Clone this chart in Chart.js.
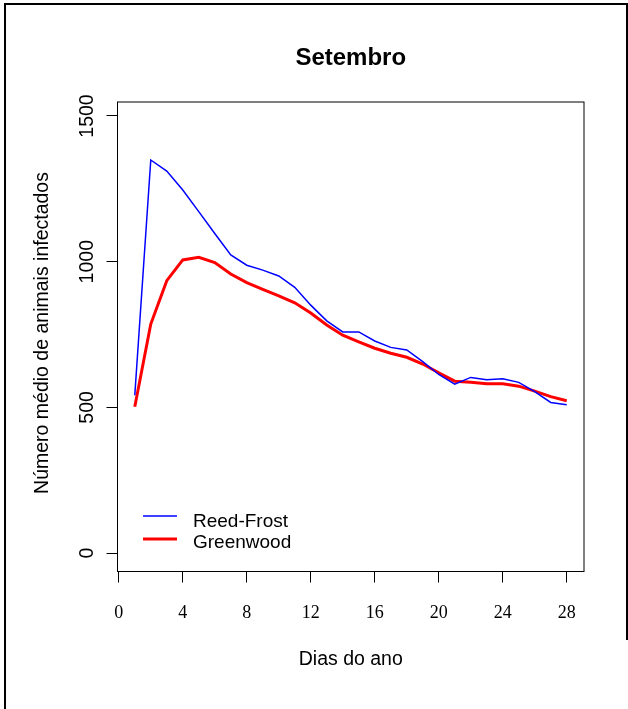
<!DOCTYPE html>
<html>
<head>
<meta charset="utf-8">
<script src="https://cdn.jsdelivr.net/npm/chart.js@4.4.0/dist/chart.umd.min.js"></script>
<style>
  html, body { margin: 0; padding: 0; background: #fff; }
  canvas { display: block; }
</style>
</head>
<body>
<canvas id="grafico" width="628" height="709"></canvas>
<script>
// Dias de setembro
const dias = [1, 2, 3, 4, 5, 6, 7, 8, 9, 10, 11, 12, 13, 14,
              15, 16, 17, 18, 19, 20, 21, 22, 23, 24, 25, 26, 27, 28];

// Número médio de animais infectados, modelo Reed-Frost
const reedFrost = [542, 1349, 1311, 1246, 1172, 1097, 1023, 988, 971, 951, 912, 851, 797, 759,
                   759, 728, 706, 697, 657, 613, 580, 603, 595, 598, 586, 554, 517, 509];

// Número médio de animais infectados, modelo Greenwood
const greenwood = [502, 786, 935, 1006, 1015, 997, 958, 928, 905, 883, 859, 824, 783, 748,
                   725, 703, 686, 672, 649, 619, 590, 586, 581, 581, 573, 556, 537, 523];

const xTicks = [0, 4, 8, 12, 16, 20, 24, 28];
const yTicks = [0, 500, 1000, 1500];

const titulo = 'Setembro';
const rotuloX = 'Dias do ano';
const rotuloY = 'Número médio de animais infectados';
const nomesSeries = ['Reed-Frost', 'Greenwood'];

const SANS = '"Liberation Sans", Arial, Helvetica, sans-serif';
const SERIF = '"Liberation Serif", "Times New Roman", serif';

const pares = (ys) => dias.map((d, i) => ({ x: d, y: ys[i] }));

// Moldura, caixa do gráfico, textos e legenda
const decoracao = {
  id: 'decoracao',
  beforeDraw(chart) {
    const ctx = chart.ctx;
    ctx.save();
    ctx.fillStyle = '#fff';
    ctx.fillRect(0, 0, chart.width, chart.height);
    ctx.fillStyle = '#000';
    ctx.fillRect(4, 3, 624, 2);     // borda superior
    ctx.fillRect(4, 3, 2, 706);     // borda esquerda
    ctx.fillRect(626, 3, 2, 637);   // borda direita
    ctx.restore();
  },
  afterDraw(chart) {
    const ctx = chart.ctx;
    const ca = chart.chartArea;
    const sx = chart.scales.x;
    const sy = chart.scales.y;
    const cx = (ca.left + ca.right) / 2;
    ctx.save();
    ctx.strokeStyle = '#000';
    ctx.lineWidth = 1;
    ctx.strokeRect(ca.left, ca.top, ca.right - ca.left, ca.bottom - ca.top);

    ctx.fillStyle = '#000';
    ctx.textBaseline = 'alphabetic';

    // título
    ctx.font = 'bold 24px ' + SANS;
    ctx.textAlign = 'center';
    ctx.fillText(titulo, cx, 65);

    // rótulos do eixo x
    ctx.font = '18px ' + SERIF;
    sx.ticks.forEach(t => ctx.fillText(String(t.value), sx.getPixelForValue(t.value), 617.5));

    // título do eixo x
    ctx.font = '19.5px ' + SANS;
    ctx.fillText(rotuloX, cx, 665);

    // rótulos do eixo y (verticais)
    sy.ticks.forEach(t => {
      ctx.save();
      ctx.translate(93, sy.getPixelForValue(t.value));
      ctx.rotate(-Math.PI / 2);
      ctx.textAlign = 'center';
      ctx.fillText(String(t.value), 0, 0);
      ctx.restore();
    });

    // título do eixo y
    ctx.save();
    ctx.translate(48, 333);
    ctx.rotate(-Math.PI / 2);
    ctx.textAlign = 'center';
    ctx.fillText(rotuloY, 0, 0);
    ctx.restore();

    // legenda
    const ds = chart.data.datasets;
    const linhasY = [516, 539];
    const textoY = [526.5, 548.3];
    ctx.font = '19px ' + SANS;
    ctx.textAlign = 'left';
    ds.forEach((d, i) => {
      ctx.beginPath();
      ctx.strokeStyle = d.borderColor;
      ctx.lineWidth = d.borderWidth;
      ctx.moveTo(143, linhasY[i]);
      ctx.lineTo(177, linhasY[i]);
      ctx.stroke();
      ctx.fillText(nomesSeries[i], 193, textoY[i]);
    });
    ctx.restore();
  }
};

new Chart(document.getElementById('grafico'), {
  type: 'line',
  data: {
    datasets: [
      { label: nomesSeries[0], data: pares(reedFrost), borderColor: '#0000ff', borderWidth: 1.5,
        pointRadius: 0, tension: 0, fill: false },
      { label: nomesSeries[1], data: pares(greenwood), borderColor: '#ff0000', borderWidth: 3,
        pointRadius: 0, tension: 0, fill: false }
    ]
  },
  options: {
    responsive: false,
    animation: false,
    devicePixelRatio: 1,
    layout: { padding: { left: 0, right: 44, top: 102, bottom: 0 } },
    plugins: { legend: { display: false }, title: { display: false }, tooltip: { enabled: false } },
    scales: {
      x: {
        type: 'linear',
        min: -0.08,
        max: 29.08,
        afterBuildTicks: s => { s.ticks = xTicks.map(v => ({ value: v })); },
        afterFit: s => { s.height = 137.5; },
        ticks: { display: false },
        border: { display: false },
        grid: { display: true, drawOnChartArea: false, drawTicks: true, tickLength: 11,
                tickColor: '#000', tickWidth: 1 }
      },
      y: {
        type: 'linear',
        min: -63,
        max: 1548,
        afterBuildTicks: s => { s.ticks = yTicks.map(v => ({ value: v })); },
        afterFit: s => { s.width = 117.5; },
        ticks: { display: false },
        border: { display: false },
        grid: { display: true, drawOnChartArea: false, drawTicks: true, tickLength: 11,
                tickColor: '#000', tickWidth: 1 }
      }
    }
  },
  plugins: [decoracao]
});
</script>
</body>
</html>
